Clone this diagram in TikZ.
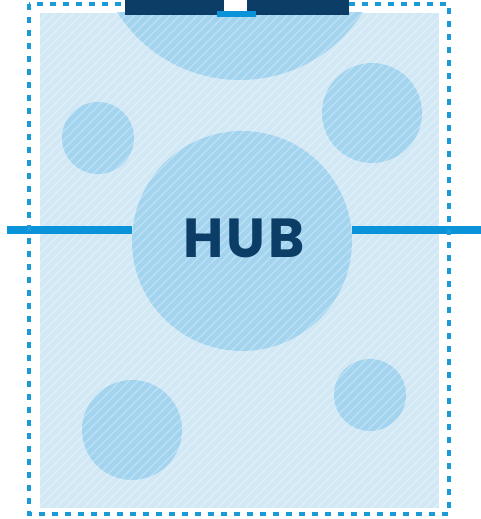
\documentclass[tikz,border=0pt]{standalone}
\usepackage{fontspec}
\newfontfamily\hubfont{Poppins}[LetterSpace=6]
\definecolor{bgblue}{HTML}{D2E9F5}
\definecolor{circblue}{HTML}{A3D4EF}
\definecolor{navy}{HTML}{0B3D66}
\definecolor{linkblue}{HTML}{0A93D8}
\definecolor{dashblue}{HTML}{1A9AD6}
\tikzset{
  blob/.style={circle, fill=circblue, inner sep=0pt, minimum size=#1},
  hatchline/.style={white, opacity=0.32, line width=1.3pt},
  link/.style={linkblue, line width=8pt},
  border/.style={dashblue, line width=3.4pt, dash pattern=on 6pt off 7pt},
}
\begin{document}
\begin{tikzpicture}[x=1pt,y=-1pt]
\useasboundingbox (0,0) rectangle (481,519);
% inner filled area
\fill[bgblue] (40,13) rectangle (439,508);
\begin{scope}
  \clip (40,13) rectangle (439,508);
  \fill[circblue] (240,-65) circle[radius=145];
\end{scope}
% circles
\node[blob=72pt]  (c1) at (98,138) {};
\node[blob=100pt] (c2) at (372,113) {};
\node[blob=100pt] (c3) at (132,430) {};
\node[blob=72pt]  (c4) at (370,395) {};
\node[blob=220pt] (hub) at (242,241) {};
% hatching
\begin{scope}
  \clip (40,13) rectangle (439,508);
  \foreach \a in {-531,-522,...,480} {
    \draw[hatchline] (\a,519) -- ++(519,-519);
  }
\end{scope}
% label
\node[text=navy, font=\hubfont\bfseries\fontsize{55}{60}\selectfont, inner sep=0pt] (hublabel) at (244,238) {HUB};
% connectors
\coordinate (lend) at (7,230);
\coordinate (rend) at (481,230);
\draw[link] (lend) -- (lend -| hub.west);
\draw[link] (hub.east |- rend) -- (rend);
% dashed border
\draw[border] (29,4) rectangle (449,514);
% top connector bar
\fill[navy] (125,0) rectangle (349,15);
\fill[linkblue] (217,11) rectangle (256,17);
\fill[white] (224,0) rectangle (247,11);
\end{tikzpicture}
\end{document}
